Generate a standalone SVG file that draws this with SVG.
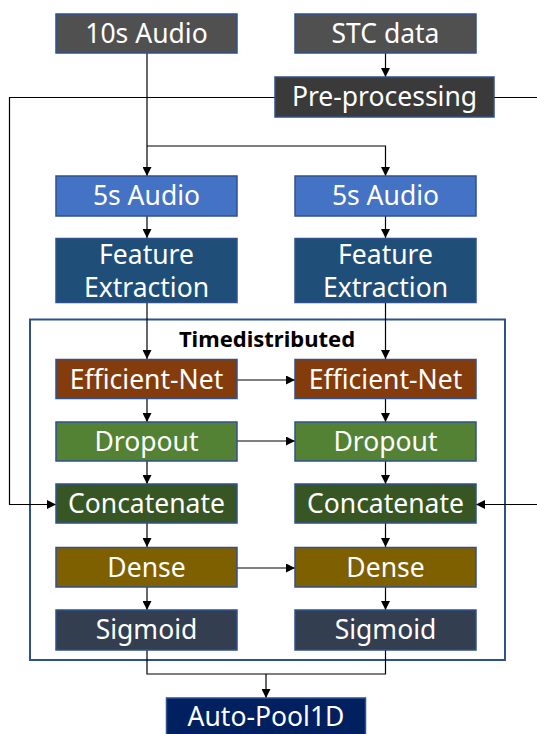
<svg xmlns="http://www.w3.org/2000/svg" width="537" height="734" viewBox="0 0 537 734">
<defs>
<marker id="ah" viewBox="0 0 10 10" refX="10" refY="5" markerWidth="9" markerHeight="9" markerUnits="userSpaceOnUse" orient="auto">
<path d="M0,0 L10,5 L0,10 z" fill="#000"/>
</marker>
</defs>
<style>
.box{stroke:#2F528F;stroke-width:1.5}
.t{font-family:"Noto Sans","Open Sans",sans-serif;font-size:26.5px;fill:#fff;text-anchor:middle}
.c{fill:none;stroke:#000;stroke-width:1.2}
.a{fill:none;stroke:#000;stroke-width:1.2;marker-end:url(#ah)}
</style>
<rect x="30" y="319.5" width="475" height="340.5" fill="none" stroke="#2F528F" stroke-width="2"/>
<text x="267" y="347" style="font-family:'Noto Sans','Open Sans',sans-serif;font-size:22px;font-weight:bold;fill:#000;text-anchor:middle">Timedistributed</text>
<g id="connectors">
<path class="a" d="M385.5,53 V77"/>
<path class="c" d="M147,53 V146"/>
<path class="a" d="M147,146 V176"/>
<path class="a" d="M147,146 H385.5 V176"/>
<path class="a" d="M147,216 V238"/>
<path class="a" d="M385.5,216 V238"/>
<path class="a" d="M147,303 V359"/>
<path class="a" d="M385.5,303 V359"/>
<path class="a" d="M147,399 V422"/>
<path class="a" d="M385.5,399 V422"/>
<path class="a" d="M147,461 V484"/>
<path class="a" d="M385.5,461 V484"/>
<path class="a" d="M147,523 V547"/>
<path class="a" d="M385.5,523 V547"/>
<path class="a" d="M147,587 V610"/>
<path class="a" d="M385.5,587 V610"/>
<path class="a" d="M237,380 H295"/>
<path class="a" d="M237,441 H295"/>
<path class="a" d="M237,568 H295"/>
<path class="a" d="M275,97.5 H9.5 V504.5 H56"/>
<path class="a" d="M494,97.5 H537 M537,504.5 H476"/>
<path class="c" d="M147,650 V674 H385.5 V650"/>
<path class="a" d="M266,674 V698"/>
</g>
<g id="n1"><rect class="box" x="56" y="14" width="181" height="39" fill="#505050"/><text class="t" x="146.5" y="43">10s Audio</text></g>
<g id="n2"><rect class="box" x="295" y="14" width="181" height="39" fill="#505050"/><text class="t" x="385.5" y="43">STC data</text></g>
<g id="n3"><rect class="box" x="275" y="77" width="219" height="40" fill="#3A3A3A"/><text class="t" x="384.5" y="106">Pre-processing</text></g>
<g id="n4"><rect class="box" x="56" y="176" width="181" height="40" fill="#4472C4"/><text class="t" x="146.5" y="205">5s Audio</text></g>
<g id="n5"><rect class="box" x="295" y="176" width="181" height="40" fill="#4472C4"/><text class="t" x="385.5" y="205">5s Audio</text></g>
<g id="n6"><rect class="box" x="56" y="238.5" width="181" height="64" fill="#1F4E79"/><text class="t" x="146.5" y="264">Feature</text><text class="t" x="146.5" y="297">Extraction</text></g>
<g id="n7"><rect class="box" x="295" y="238.5" width="181" height="64" fill="#1F4E79"/><text class="t" x="385.5" y="264">Feature</text><text class="t" x="385.5" y="297">Extraction</text></g>
<g id="n8"><rect class="box" x="56" y="359.5" width="181" height="39" fill="#843C0C"/><text class="t" x="146.5" y="388.5">Efficient-Net</text></g>
<g id="n9"><rect class="box" x="295" y="359.5" width="181" height="39" fill="#843C0C"/><text class="t" x="385.5" y="388.5">Efficient-Net</text></g>
<g id="n10"><rect class="box" x="56" y="422" width="181" height="39" fill="#548235"/><text class="t" x="146.5" y="450.5">Dropout</text></g>
<g id="n11"><rect class="box" x="295" y="422" width="181" height="39" fill="#548235"/><text class="t" x="385.5" y="450.5">Dropout</text></g>
<g id="n12"><rect class="box" x="56" y="484" width="181" height="39" fill="#375623"/><text class="t" x="146.5" y="513">Concatenate</text></g>
<g id="n13"><rect class="box" x="295" y="484" width="181" height="39" fill="#375623"/><text class="t" x="385.5" y="513">Concatenate</text></g>
<g id="n14"><rect class="box" x="56" y="547.5" width="181" height="39.5" fill="#7F6000"/><text class="t" x="146.5" y="576.5">Dense</text></g>
<g id="n15"><rect class="box" x="295" y="547.5" width="181" height="39.5" fill="#7F6000"/><text class="t" x="385.5" y="576.5">Dense</text></g>
<g id="n16"><rect class="box" x="56" y="610" width="181" height="40" fill="#333F50"/><text class="t" x="146.5" y="639">Sigmoid</text></g>
<g id="n17"><rect class="box" x="295" y="610" width="181" height="40" fill="#333F50"/><text class="t" x="385.5" y="639">Sigmoid</text></g>
<g id="n18"><rect class="box" x="166.5" y="698" width="199" height="45" fill="#002060"/><text class="t" x="266" y="726">Auto-Pool1D</text></g>
</svg>
